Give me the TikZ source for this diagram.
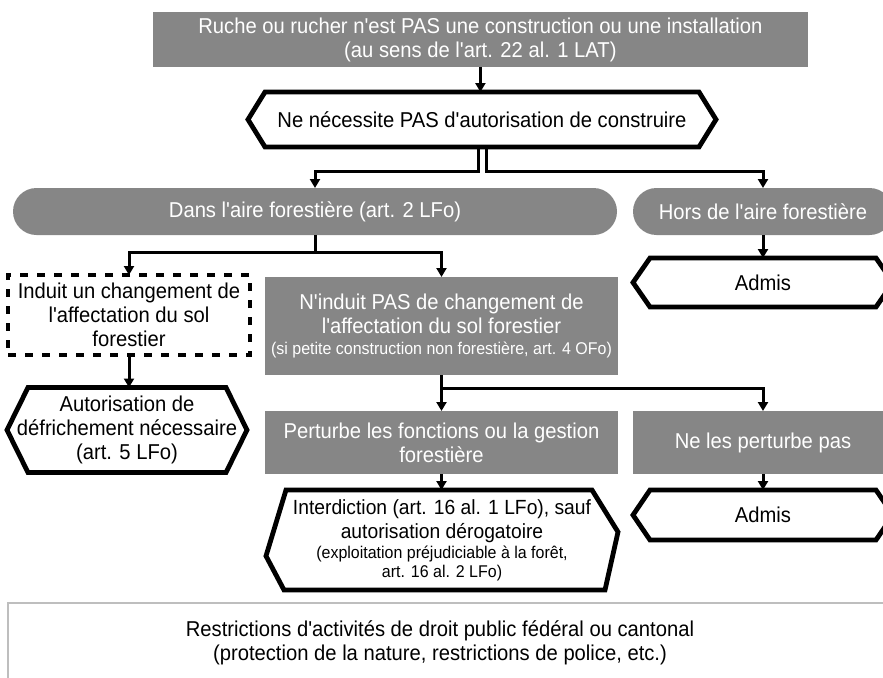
\documentclass[tikz,border=0pt]{standalone}
\usepackage{fontspec}
\setmainfont{Liberation Sans}[Ligatures=TeXOff, FakeStretch=0.94]
\usetikzlibrary{arrows.meta,calc}

\definecolor{boxgrey}{RGB}{134,134,134}
\definecolor{framegrey}{RGB}{190,190,190}

% hexagon drawn round a node: name, inset of the corners
\newcommand\hexframe[2]{%
  \draw[hexline] ([xshift=#2]#1.north west) -- ([xshift=-#2]#1.north east) -- (#1.east)
    -- ([xshift=-#2]#1.south east) -- ([xshift=#2]#1.south west) -- (#1.west) -- cycle;}

\begin{document}
\begin{tikzpicture}[x=1pt, y=-1pt,
      every node/.style = {align=center, outer sep=0pt, inner sep=2pt,
        font=\fontsize{21.5}{24}\selectfont},
      greybox/.style = {rectangle, fill=boxgrey, text=white},
      roundbox/.style = {greybox, rounded corners=23.5pt},
      dashbox/.style = {rectangle, draw, line width=3.5pt, dash pattern=on 8pt off 9pt},
      hexline/.style = {draw, line width=4.8pt, line join=miter},
      frameline/.style = {draw=framegrey, line width=1.5pt},
      link/.style = {line width=3pt, -{Triangle[width=10pt,length=9pt]}}]
  \useasboundingbox (0,0) rectangle (883,677);

  \node[greybox, minimum width=655pt, minimum height=55pt] (top) at (480.4,39.5)
    {Ruche ou rucher n'est PAS une construction ou une installation\\
     (au sens de l'art. 22 al. 1 LAT)};
  \node[minimum width=468pt, minimum height=55pt] (nec) at (482,119.5)
    {Ne nécessite PAS d'autorisation de construire};
  \node[roundbox, minimum width=604pt, minimum height=47pt] (dans) at (315,211.5)
    {Dans l'aire forestière (art. 2 LFo)};
  \node[roundbox, minimum width=260pt, minimum height=47pt] (hors) at (763,211.5)
    {Hors de l'aire forestière};
  \node[dashbox, minimum width=242pt, minimum height=80pt] (induit) at (129,315)
    {Induit un changement de\\ l'affectation du sol\\ forestier};
  \node[greybox, minimum width=353pt, minimum height=98pt] (ninduit) at (441.5,326)
    {N'induit PAS de changement de\\ l'affectation du sol forestier\\[-3pt]
     {\fontsize{17}{19}\selectfont (si petite construction non forestière, art. 4 OFo)}};
  \node[minimum width=260pt, minimum height=49pt] (admisA) at (763,282.5) {Admis};
  \node[minimum width=240pt, minimum height=85pt] (autor) at (127,430)
    {Autorisation de\\ défrichement nécessaire\\ (art. 5 LFo)};
  \node[greybox, minimum width=353pt, minimum height=63pt] (perturbe) at (441.5,442.5)
    {Perturbe les fonctions ou la gestion\\ forestière};
  \node[greybox, minimum width=260pt, minimum height=63pt] (neles) at (763,442.5)
    {Ne les perturbe pas};
  \node[minimum width=352pt, minimum height=100pt, font=\fontsize{20.5}{24}\selectfont]
    (interd) at (442,540)
    {Interdiction (art. 16 al. 1 LFo), sauf\\ autorisation dérogatoire\\[-4pt]
     {\fontsize{17}{19}\selectfont (exploitation préjudiciable à la forêt,}\\[-5pt]
     {\fontsize{17}{19}\selectfont art. 16 al. 2 LFo)}};
  \node[minimum width=260pt, minimum height=50pt] (admisB) at (763,515) {Admis};
  \node[minimum width=864pt, minimum height=79pt] (restr) at (440,642.5)
    {Restrictions d'activités de droit public fédéral ou cantonal\\
     (protection de la nature, restrictions de police, etc.)};

  % frames
  \hexframe{nec}{17pt}
  \hexframe{admisA}{17pt}
  \hexframe{admisB}{17pt}
  \hexframe{autor}{21pt}
  \draw[hexline] ([xshift=20pt]interd.north west) -- ([xshift=-26pt]interd.north east)
    -- ($(interd.north east)!0.42!(interd.south east)$) -- ([xshift=-13pt]interd.south east)
    -- ([xshift=18pt]interd.south west) -- ($(interd.north west)!0.66!(interd.south west)$) -- cycle;
  \draw[frameline] (restr.north west) rectangle ([xshift=40pt,yshift=-10pt]restr.south east);

  % connectors
  \draw[link] (top.south) -- (top.south |- nec.north);
  \draw[link] ([xshift=-4pt]nec.south) -- ++(0,24) -| (dans);
  \draw[link] ([xshift=4pt]nec.south) -- ++(0,24) -| (hors);
  \draw[link] (dans.south) -- ++(0,17) -| (induit);
  \draw[link] (dans.south) -- ++(0,17) -| (ninduit);
  \draw[link] (hors) -- (admisA);
  \draw[link] (induit.south) -- (induit.south |- autor.north);
  \draw[link] (ninduit) -- (perturbe);
  \draw[link] (ninduit.south) -- ++(0,13) -| (neles);
  \draw[link] (perturbe.south) -- (perturbe.south |- interd.north);
  \draw[link] (neles) -- (admisB);
\end{tikzpicture}
\end{document}
